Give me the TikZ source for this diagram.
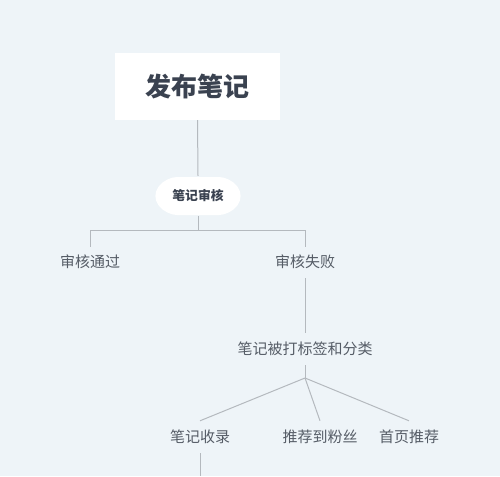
\documentclass[tikz,border=0pt]{standalone}
\usepackage{fontspec}
\setmainfont{Noto Sans CJK SC}
\definecolor{bgc}{HTML}{EEF4F8}
\definecolor{linec}{HTML}{B4B9BE}
\definecolor{titlec}{HTML}{3A4250}
\definecolor{labelc}{HTML}{555C66}
\tikzset{
  titlebox/.style={fill=white, minimum width=165pt, minimum height=67pt, inner sep=0pt,
    font=\fontsize{26pt}{30pt}\selectfont\bfseries, text=titlec},
  auditbox/.style={minimum width=93pt, minimum height=38pt, inner sep=0pt,
    font=\fontsize{12.8pt}{15pt}\selectfont\bfseries, text=titlec},
  auditshape/.style={fill=white, rounded corners=11pt},
  label/.style={inner sep=0pt, minimum height=32pt, text=labelc,
    font=\fontsize{15pt}{18pt}\selectfont},
  conn/.style={draw=linec, line width=1pt}
}
\begin{document}
\begin{tikzpicture}[x=1pt,y=-1pt]
\fill[bgc] (0,0) rectangle (500,476);
\useasboundingbox (0,0) rectangle (500,476);
\node[titlebox] (title) at (197.5,86.5) {发布笔记};
\fill[auditshape, shift={(198,196)}] (-46.5,0) -- (-32,-19) -- (32,-19) -- (46.5,0) -- (32,19) -- (-32,19) -- cycle;
\node[auditbox] (audit) at (198,196) {笔记审核};
\node[label] (pass) at (90,262) {审核通过};
\node[label] (fail) at (305,262) {审核失败};
\node[label] (tag) at (305,349) {笔记被打标签和分类};
\node[label] (c1) at (200,437) {笔记收录};
\node[label] (c2) at (320,437) {推荐到粉丝};
\node[label] (c3) at (409,437) {首页推荐};
\coordinate (split) at (198,230);
\coordinate (j) at (305,378);
\coordinate (endc) at (200,476);
\draw[conn] (title.south) -- ([yshift=1pt]audit.north);
\draw[conn] ([yshift=-1pt]audit.south) -- (split);
\draw[conn] (split) -| ([yshift=-1pt]pass.north);
\draw[conn] (split) -| ([yshift=-1pt]fail.north);
\draw[conn] (fail.south) -- (tag.north);
\draw[conn] (tag.south) -- (j);
\draw[conn] (j) -- (c1.north);
\draw[conn] (j) -- (c2.north);
\draw[conn] (j) -- (c3.north);
\draw[conn] (c1.south) -- (endc);
\end{tikzpicture}
\end{document}
